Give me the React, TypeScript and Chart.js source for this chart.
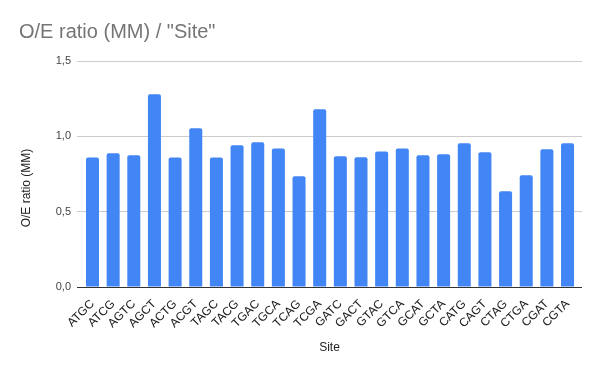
import React, { useEffect, useRef } from "react";
import { Chart, registerables } from "chart.js";

Chart.register(...registerables);

const sites = ["ATGC","ATCG","AGTC","AGCT","ACTG","ACGT","TAGC","TACG","TGAC","TGCA","TCAG","TCGA","GATC","GACT","GTAC","GTCA","GCAT","GCTA","CATG","CAGT","CTAG","CTGA","CGAT","CGTA"];
const oeRatio = [0.859,0.887,0.874,1.279,0.859,1.053,0.859,0.940,0.960,0.920,0.735,1.179,0.867,0.861,0.900,0.920,0.874,0.881,0.954,0.894,0.635,0.741,0.914,0.954];
const yTicks = [0, 0.5, 1.0, 1.5];
const yTitle = "O/E ratio (MM)";

const FONT = "'Liberation Sans', Arial, sans-serif";

const yTitlePlugin = {
  id: "yTitlePlugin",
  afterDraw(chart: any) {
    const c = chart.ctx;
    c.save();
    c.translate(27, 188);
    c.rotate(-Math.PI / 2);
    c.font = `12px ${FONT}`;
    c.fillStyle = "#222";
    c.textAlign = "center";
    c.textBaseline = "middle";
    c.fillText(yTitle, 0, 0);
    c.restore();
  },
};

export default function App() {
  const ref = useRef<HTMLCanvasElement>(null);
  useEffect(() => {
    document.body.style.margin = "0";
    const ctx = ref.current!;
    const chart = new Chart(ctx, {
      type: "bar",
      data: {
        datasets: [{
          label: yTitle,
          data: oeRatio.map((v, i) => ({ x: i, y: v })),
          backgroundColor: "#4285F4",
          borderRadius: { topLeft: 2, topRight: 2, bottomLeft: 0, bottomRight: 0 },
          borderSkipped: false,
          barPercentage: 0.63,
          categoryPercentage: 1,
        }],
      },
      options: {
        animation: false,
        responsive: false,
        maintainAspectRatio: false,
        layout: { padding: { left: 19, right: 18, top: 20, bottom: 16 } },
        plugins: {
          legend: { display: false },
          tooltip: { enabled: false },
          title: {
            display: true,
            text: 'O/E ratio (MM) / "Site"',
            align: "start",
            color: "#757575",
            font: { family: FONT, size: 20, weight: "normal" },
            padding: { top: 0, bottom: 17 },
          },
        },
        scales: {
          x: {
            type: "linear",
            offset: false,
            min: -0.75,
            max: 23.7,
            afterBuildTicks: (s: any) => { s.ticks = sites.map((_, i) => ({ value: i })); },
            grid: { display: false, offset: false },
            border: { display: false },
            ticks: {
              color: "#222",
              font: { family: FONT, size: 12 },
              minRotation: 45,
              maxRotation: 45,
              autoSkip: false,
              padding: 2,
              callback: (v: any) => sites[Math.round(Number(v))] ?? "",
            },
            title: {
              display: true,
              text: "Site",
              color: "#222",
              font: { family: FONT, size: 12 },
              padding: { top: 4, bottom: 0 },
            },
            afterFit: (s: any) => { s.height = 68; },
          },
          y: {
            min: 0,
            max: 1.5,
            afterBuildTicks: (s: any) => { s.ticks = yTicks.map((v) => ({ value: v })); },
            grid: {
              color: (c: any) => (c.tick && c.tick.value === 0 ? "#333" : "#cccccc"),
              lineWidth: 1,
              drawTicks: false,
            },
            border: { display: false },
            ticks: {
              color: "#444",
              font: { family: FONT, size: 11 },
              padding: 6,
              callback: (v: any) => Number(v).toFixed(1).replace(".", ","),
            },
            title: { display: false, text: yTitle },
            afterFit: (s: any) => { s.width = 58; },
          },
        },
      },
      plugins: [yTitlePlugin],
    });
    return () => chart.destroy();
  }, []);
  return <canvas ref={ref} width={600} height={371} style={{ display: "block" }} />;
}
